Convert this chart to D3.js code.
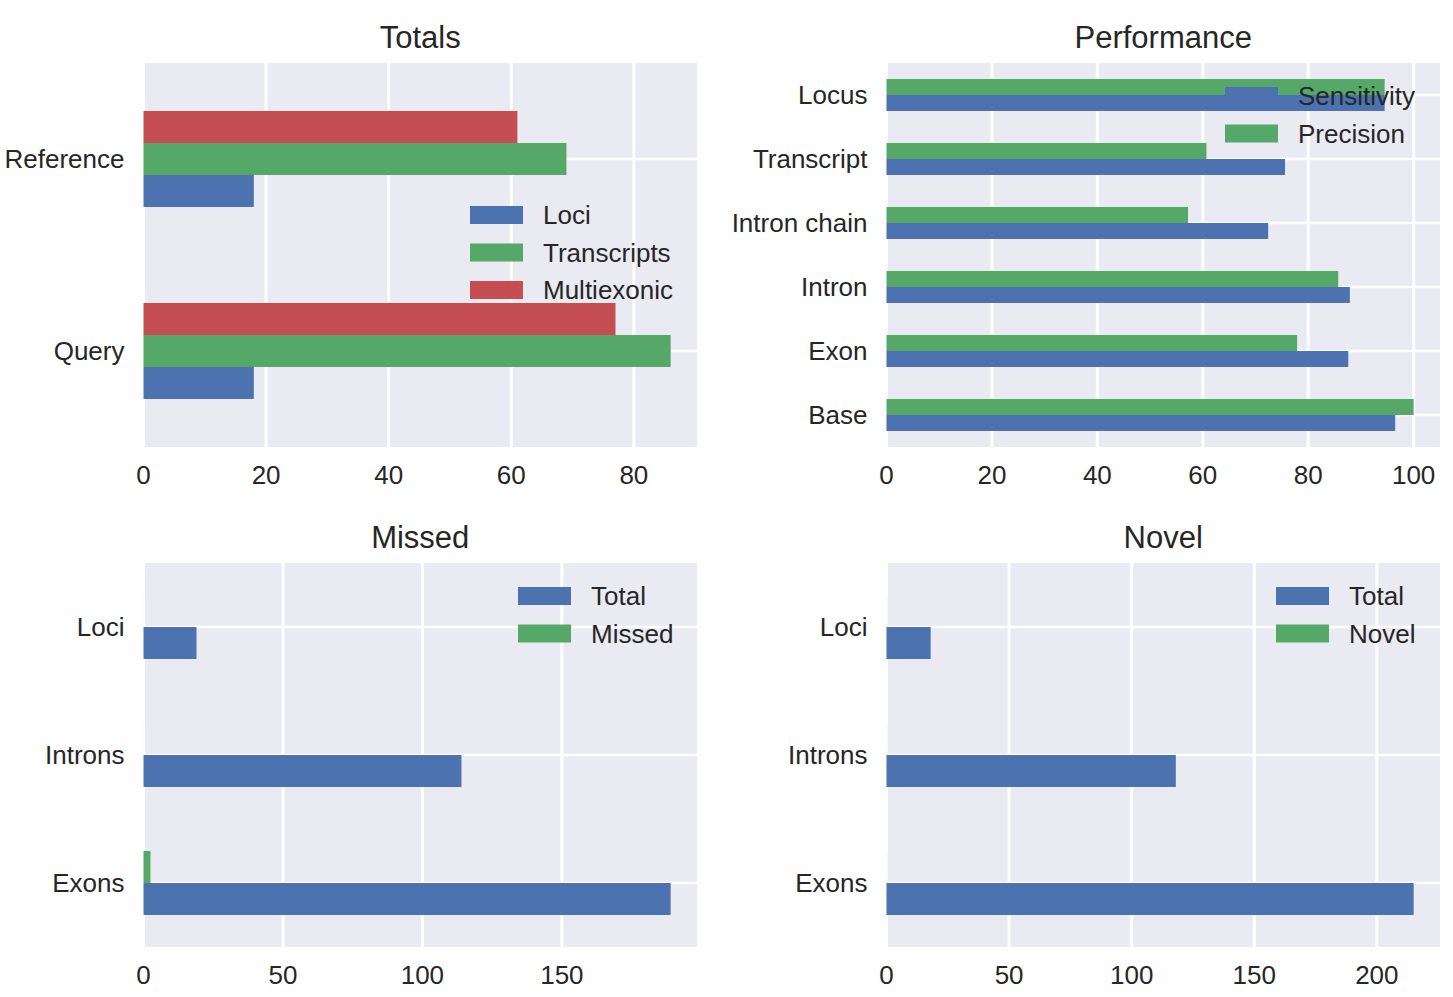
<!DOCTYPE html>
<html>
<head>
<meta charset="utf-8">
<script src="https://cdn.jsdelivr.net/npm/d3@7"></script>
<style>
  body { margin: 0; background: #fff; }
  text { font-family: "Liberation Sans", Arial, sans-serif; fill: #262626; }
</style>
</head>
<body>
<div id="my_dataviz"></div>
<script>
// categories are listed bottom to top, the way the bars are stacked
var totalsCategories = ["Query", "Reference"];
var totalsLoci = [18, 18];
var totalsTranscripts = [86, 69];
var totalsMultiexonic = [77, 61];
var totalsTicks = [0, 20, 40, 60, 80];

var perfCategories = ["Base", "Exon", "Intron", "Intron chain", "Transcript", "Locus"];
var perfSensitivity = [96.5, 87.6, 87.9, 72.4, 75.6, 94.5];
var perfPrecision = [100, 77.9, 85.7, 57.2, 60.7, 94.5];
var perfTicks = [0, 20, 40, 60, 80, 100];

var missedCategories = ["Exons", "Introns", "Loci"];
var missedTotal = [189, 114, 19];
var missedMissed = [2.5, 0, 0];
var missedTicks = [0, 50, 100, 150];

var novelCategories = ["Exons", "Introns", "Loci"];
var novelTotal = [215, 118, 18];
var novelNovel = [0, 0, 0];
var novelTicks = [0, 50, 100, 150, 200];

var blue = "#4C72B0", green = "#55A868", red = "#C44E52";

var svg = d3.select("#my_dataviz")
  .append("svg")
  .attr("width", 1453)
  .attr("height", 997);

function drawPanel(p) {
  var g = svg.append("g");
  var maxVal = d3.max(p.series, function(s) { return d3.max(s.values); });
  var x = d3.scaleLinear().domain([0, maxVal * 1.05]).range([p.left, p.left + p.width]);
  var n = p.categories.length;
  var y = d3.scaleLinear().domain([-0.5, n - 0.5]).range([p.top + p.height, p.top]);

  // background
  g.append("rect")
    .attr("x", p.left).attr("y", p.top)
    .attr("width", p.width).attr("height", p.height)
    .attr("fill", "#EAEAF2");

  // grid
  g.selectAll(".vgrid").data(p.ticks).enter().append("line")
    .attr("x1", function(d) { return x(d); }).attr("x2", function(d) { return x(d); })
    .attr("y1", p.top).attr("y2", p.top + p.height)
    .attr("stroke", "#fff").attr("stroke-width", 3);
  g.selectAll(".hgrid").data(d3.range(n)).enter().append("line")
    .attr("x1", p.left).attr("x2", p.left + p.width)
    .attr("y1", function(d) { return y(d); }).attr("y2", function(d) { return y(d); })
    .attr("stroke", "#fff").attr("stroke-width", 2.6);

  // bars
  var k = p.series.length;
  var bh = 0.5 / k;
  p.series.forEach(function(s, i) {
    s.values.forEach(function(v, j) {
      var yTop = y(j - 0.25 + (i + 1) * bh);
      var yBot = y(j - 0.25 + i * bh);
      if (v > 0) {
        g.append("rect")
          .attr("x", x(0)).attr("y", yTop)
          .attr("width", x(v) - x(0)).attr("height", yBot - yTop)
          .attr("fill", s.color);
      } else {
        g.append("line")
          .attr("x1", x(0) + 0.5).attr("x2", x(0) + 0.5)
          .attr("y1", yTop).attr("y2", yBot)
          .attr("stroke", "#f7f7fa").attr("stroke-width", 1);
      }
    });
  });

  // tick labels
  g.selectAll(".xt").data(p.ticks).enter().append("text")
    .attr("x", function(d) { return x(d); })
    .attr("y", p.top + p.height + 37)
    .attr("text-anchor", "middle")
    .style("font-size", "26px")
    .text(function(d) { return d; });
  g.selectAll(".yt").data(p.categories).enter().append("text")
    .attr("x", p.left - 19)
    .attr("y", function(d, i) { return y(i); })
    .attr("dy", ".35em")
    .attr("text-anchor", "end")
    .style("font-size", "26px")
    .text(function(d) { return d; });

  // title
  g.append("text")
    .attr("x", p.left + p.width / 2)
    .attr("y", p.top - 15)
    .attr("text-anchor", "middle")
    .style("font-size", "31px")
    .text(p.title);

  // legend
  var legend = g.append("g")
    .selectAll("g")
    .data(p.series)
    .enter().append("g")
    .attr("transform", function(d, i) { return "translate(" + p.legendX + "," + (p.legendY + i * 37.5) + ")"; });
  legend.append("rect")
    .attr("x", 0).attr("y", -9)
    .attr("width", 53).attr("height", 18)
    .attr("fill", function(d) { return d.color; });
  legend.append("text")
    .attr("x", 73).attr("y", 0)
    .attr("dy", ".35em")
    .style("font-size", "26px")
    .text(function(d) { return d.name; });
}

drawPanel({
  title: "Totals", left: 143.5, top: 63, width: 553.5, height: 384,
  categories: totalsCategories, ticks: totalsTicks,
  series: [
    {name: "Loci", values: totalsLoci, color: blue},
    {name: "Transcripts", values: totalsTranscripts, color: green},
    {name: "Multiexonic", values: totalsMultiexonic, color: red}
  ],
  legendX: 470, legendY: 215
});

drawPanel({
  title: "Performance", left: 886.5, top: 63, width: 553.5, height: 384,
  categories: perfCategories, ticks: perfTicks,
  series: [
    {name: "Sensitivity", values: perfSensitivity, color: blue},
    {name: "Precision", values: perfPrecision, color: green}
  ],
  legendX: 1225, legendY: 96
});

drawPanel({
  title: "Missed", left: 143.5, top: 563, width: 553.5, height: 384,
  categories: missedCategories, ticks: missedTicks,
  series: [
    {name: "Total", values: missedTotal, color: blue},
    {name: "Missed", values: missedMissed, color: green}
  ],
  legendX: 518, legendY: 596
});

drawPanel({
  title: "Novel", left: 886.5, top: 563, width: 553.5, height: 384,
  categories: novelCategories, ticks: novelTicks,
  series: [
    {name: "Total", values: novelTotal, color: blue},
    {name: "Novel", values: novelNovel, color: green}
  ],
  legendX: 1276, legendY: 596
});
</script>
</body>
</html>
